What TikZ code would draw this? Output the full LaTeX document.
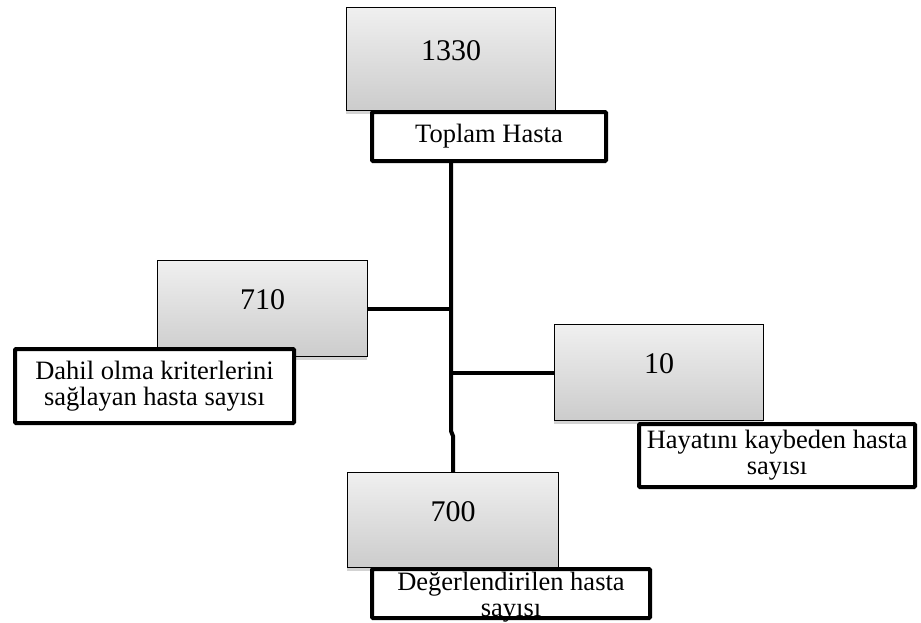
\documentclass[tikz,border=0pt]{standalone}
\usepackage{fontspec}
\setmainfont{Liberation Serif}
\usepackage{tikz}
\usetikzlibrary{shadows}
\usetikzlibrary{calc}

\begin{document}
\begin{tikzpicture}[x=1pt,y=-1pt]
\tikzset{countbox/.style={rectangle, draw, line width=1.2pt, top color=gray!12, bottom color=gray!40, drop shadow={shadow xshift=-1pt, shadow yshift=-3pt, opacity=0.35}, font=\fontsize{30}{30}\selectfont, text height=20pt, text depth=18pt, inner sep=0pt}}
\tikzset{labelbox/.style={rectangle, draw, fill=white, line width=4pt, rounded corners=1pt, font=\fontsize{26.5}{26}\selectfont, align=center, inner sep=0pt}}
\tikzset{branch/.style={line width=4pt}}
\useasboundingbox (0,0) rectangle (921,622);
% count boxes
\node[countbox, minimum width=209pt, minimum height=103pt] (b1330) at (451,59) {1330};
\node[countbox, minimum width=210pt, minimum height=96pt] (b710) at (262.5,308.5) {710};
\node[countbox, minimum width=209pt, minimum height=96pt] (b10) at (659,372.5) {10};
\node[countbox, minimum width=211pt, minimum height=95pt] (b700) at (453,520) {700};
% connectors
\coordinate (jogtop) at (451,431);
\coordinate (jogbot) at (453,436);
\draw[branch] (b1330.south) -- (jogtop) -- (jogbot) -- (b700.north);
\draw[branch] (b710.east) -- (b710.east -| b1330.south);
\draw[branch] (b10.west) -- (b10.west -| b1330.south);
% labels
\node[labelbox, minimum width=234pt, minimum height=49pt] (ltotal) at (489,136.5) {Toplam Hasta};
\node[labelbox, minimum width=279pt, minimum height=74pt] (lincl) at (154.5,386) {Dahil olma kriterlerini\\sağlayan hasta sayısı};
\node[labelbox, minimum width=276pt, minimum height=63pt] (ldead) at (777,455.5) {Hayatını kaybeden hasta\\sayısı};
\node[labelbox, minimum width=278pt, minimum height=49pt, text height=10pt, text depth=17pt] (leval) at (511,593.5) {\parbox[t]{278pt}{\centering Değerlendirilen hasta\\sayısı}};
\end{tikzpicture}
\end{document}
